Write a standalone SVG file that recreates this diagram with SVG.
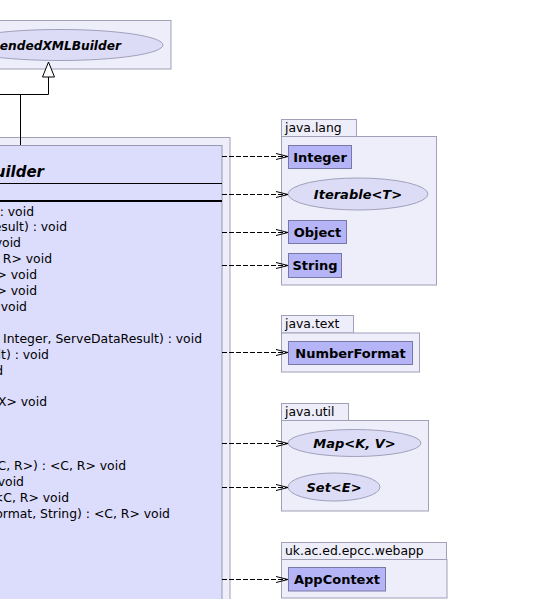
<svg xmlns="http://www.w3.org/2000/svg" width="533" height="599" viewBox="0 0 533 599">
<style>
.pkg{fill:#eeeefa;stroke:#a0a0b8;stroke-width:1}
.cls{fill:#dcdcfc;stroke:#9898b0;stroke-width:1}
.ref{fill:#b4b4f6;stroke:#7878a8;stroke-width:1}
.ifc{fill:#dcdcf6;stroke:#a0a0bc;stroke-width:1}
.t{font-family:"DejaVu Sans","Liberation Sans",sans-serif;fill:#000}
.m{font-size:12.4px;text-anchor:end}
.b{font-size:13px;font-weight:bold;text-anchor:middle}
.bi{font-size:13px;font-weight:bold;font-style:italic;text-anchor:middle}
.p{font-size:12.4px}
.dep{fill:none;stroke:#000;stroke-width:1;stroke-dasharray:5,2}
</style>
<defs>
<marker id="vee" markerWidth="14" markerHeight="10" refX="13" refY="5" orient="auto" markerUnits="userSpaceOnUse">
<path d="M1,2 L13,5 L1,8" fill="none" stroke="#000" stroke-width="1"/>
</marker>
</defs>

<g id="parent">
<rect class="pkg" x="-10" y="20.5" width="181" height="48.5"/>
<ellipse class="ifc" cx="60" cy="45" rx="103" ry="15.5"/>
<text class="t" x="121" y="50" font-size="12.2" font-weight="bold" font-style="italic" text-anchor="end">endedXMLBuilder</text>
</g>

<g id="builder">
<rect class="pkg" x="-10" y="137.5" width="240" height="480"/>
<rect class="cls" x="-10" y="145.5" width="232" height="470"/>
<text class="t" x="44" y="177" font-size="15" font-weight="bold" font-style="italic" text-anchor="end">uilder</text>
<line x1="-10" y1="183.5" x2="222" y2="183.5" stroke="#000" stroke-width="1"/>
<line x1="-10" y1="201" x2="222" y2="201" stroke="#000" stroke-width="2"/>
<text class="t m" x="34" y="215.5">: void</text>
<text class="t m" x="67" y="231.4">esult) : void</text>
<text class="t m" x="21" y="247.3">void</text>
<text class="t m" x="52" y="263.2">R&gt; void</text>
<text class="t m" x="37" y="279.1">&gt; void</text>
<text class="t m" x="37" y="295">&gt; void</text>
<text class="t m" x="27" y="310.9">void</text>
<text class="t m" x="202" y="342.7">Integer, ServeDataResult) : void</text>
<text class="t m" x="49" y="358.6">lt) : void</text>
<text class="t m" x="3" y="374.5">d</text>
<text class="t m" x="47" y="406.3">&lt;X&gt; void</text>
<text class="t m" x="126" y="469.9">&lt;C, R&gt;) : &lt;C, R&gt; void</text>
<text class="t m" x="24" y="485.8">void</text>
<text class="t m" x="69" y="501.7">&lt;C, R&gt; void</text>
<text class="t m" x="170" y="517.6">ormat, String) : &lt;C, R&gt; void</text>
</g>

<g id="java.lang">
<rect class="pkg" x="281.5" y="119.5" width="75" height="17"/>
<rect class="pkg" x="281.5" y="136.5" width="155" height="148.5"/>
<text class="t p" x="285" y="132">java.lang</text>
</g>
<g id="Integer">
<rect class="ref" x="288.5" y="145.5" width="63" height="23"/>
<text class="t b" x="320" y="161.5">Integer</text>
</g>
<g id="Iterable">
<ellipse class="ifc" cx="358" cy="194" rx="70" ry="16"/>
<text class="t bi" x="358" y="199">Iterable&lt;T&gt;</text>
</g>
<g id="Object">
<rect class="ref" x="288.5" y="220.5" width="58" height="23"/>
<text class="t b" x="317.5" y="236.5">Object</text>
</g>
<g id="String">
<rect class="ref" x="288.5" y="253.5" width="53" height="24"/>
<text class="t b" x="315" y="270">String</text>
</g>

<g id="java.text">
<rect class="pkg" x="281.5" y="315.5" width="72" height="17.5"/>
<rect class="pkg" x="281.5" y="333" width="138" height="39"/>
<text class="t p" x="285" y="328">java.text</text>
</g>
<g id="NumberFormat">
<rect class="ref" x="288.5" y="341.5" width="124" height="23"/>
<text class="t b" x="350.5" y="357.5">NumberFormat</text>
</g>

<g id="java.util">
<rect class="pkg" x="281.5" y="403.5" width="67" height="17"/>
<rect class="pkg" x="281.5" y="420.5" width="147" height="90.5"/>
<text class="t p" x="285" y="416">java.util</text>
</g>
<g id="Map">
<ellipse class="ifc" cx="354.5" cy="443" rx="66.5" ry="13.5"/>
<text class="t bi" x="354.5" y="448">Map&lt;K, V&gt;</text>
</g>
<g id="Set">
<ellipse class="ifc" cx="334" cy="487" rx="46" ry="14"/>
<text class="t bi" x="334" y="492">Set&lt;E&gt;</text>
</g>

<g id="uk.ac.ed.epcc.webapp">
<rect class="pkg" x="281.5" y="542.5" width="165" height="17"/>
<rect class="pkg" x="281.5" y="559.5" width="165.5" height="38.5"/>
<text class="t p" x="285" y="555">uk.ac.ed.epcc.webapp</text>
</g>
<g id="AppContext">
<rect class="ref" x="288.5" y="567.5" width="97" height="23.5"/>
<text class="t b" x="337" y="584">AppContext</text>
</g>

<g id="connectors">
<path d="M20.5,145 V94.5 M0,94.5 H48.5 V77" fill="none" stroke="#000" stroke-width="1"/>
<path d="M48.5,62 L42.5,77 L54.5,77 Z" fill="#fff" stroke="#000" stroke-width="1"/>
<line class="dep" x1="222" y1="156.5" x2="288" y2="156.5" marker-end="url(#vee)"/>
<line class="dep" x1="222" y1="194.5" x2="288" y2="194.5" marker-end="url(#vee)"/>
<line class="dep" x1="222" y1="232.5" x2="288" y2="232.5" marker-end="url(#vee)"/>
<line class="dep" x1="222" y1="265.5" x2="288" y2="265.5" marker-end="url(#vee)"/>
<line class="dep" x1="222" y1="352.5" x2="288" y2="352.5" marker-end="url(#vee)"/>
<line class="dep" x1="222" y1="443.5" x2="288" y2="443.5" marker-end="url(#vee)"/>
<line class="dep" x1="222" y1="487.5" x2="288" y2="487.5" marker-end="url(#vee)"/>
<line class="dep" x1="222" y1="579.5" x2="288" y2="579.5" marker-end="url(#vee)"/>
</g>
</svg>
